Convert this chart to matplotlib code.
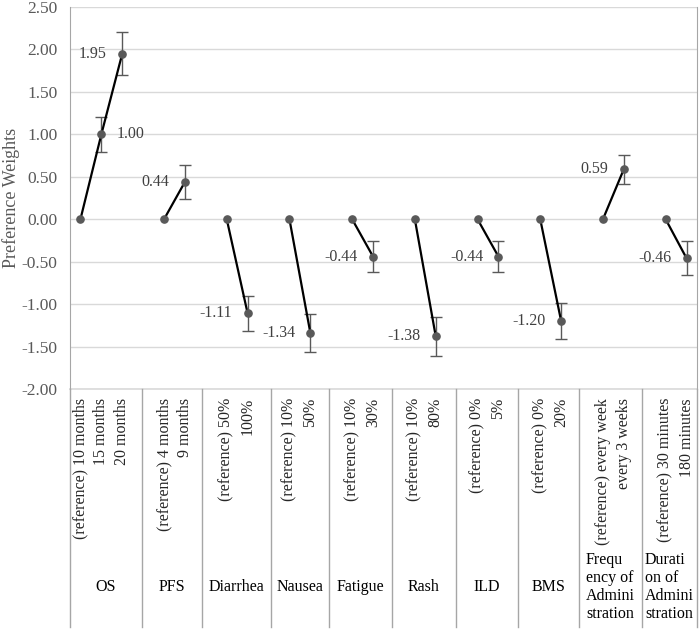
import matplotlib
matplotlib.use("Agg")
import matplotlib.pyplot as plt
import matplotlib.transforms as mtransforms
import numpy as np

plt.rcParams['font.family'] = ['Liberation Serif', 'DejaVu Serif']

# attributes and their levels
groups = ['OS', 'PFS', 'Diarrhea', 'Nausea', 'Fatigue', 'Rash', 'ILD', 'BMS',
          'Frequ\nency of\nAdmini\nstration', 'Durati\non of\nAdmini\nstration']
levels = [['(reference) 10 months', '15 months', '20 months'],
          ['(reference) 4 months', '9 months'],
          ['(reference) 50%', '100%'],
          ['(reference) 10%', '50%'],
          ['(reference) 10%', '30%'],
          ['(reference) 10%', '80%'],
          ['(reference) 0%', '5%'],
          ['(reference) 0%', '20%'],
          ['(reference) every week', 'every 3 weeks'],
          ['(reference) 30 minutes', '180 minutes']]
weights = [[0, 1.00, 1.95],
           [0, 0.44],
           [0, -1.11],
           [0, -1.34],
           [0, -0.44],
           [0, -1.38],
           [0, -0.44],
           [0, -1.20],
           [0, 0.59],
           [0, -0.46]]
errors = [[0, 0.21, 0.25],
          [0, 0.20],
          [0, 0.21],
          [0, 0.22],
          [0, 0.18],
          [0, 0.23],
          [0, 0.18],
          [0, 0.21],
          [0, 0.17],
          [0, 0.20]]

# where the group dividers sit on the category axis (one empty slot between groups)
dividers = [2.94, 5.82, 9.12, 11.89, 14.9, 17.97, 20.94, 23.85, 26.87]

grid_col = '#d9d9d9'
axis_col = '#a6a6a6'
pt_col = '#595959'

fig = plt.figure(figsize=(6.99, 6.29), dpi=100)
ax = fig.add_axes([70 / 699, 1 - 389 / 629, 627 / 699, 382 / 629])

pos = 0
positions = []
for g in range(len(groups)):
    xs = np.arange(pos, pos + len(weights[g]))
    positions.append(xs)
    ys = np.array(weights[g])
    ax.plot(xs, ys, color='black', lw=1.6, zorder=3)
    err = np.array(errors[g], dtype=float)
    ax.errorbar(xs[1:], ys[1:], yerr=err[1:], fmt='none', ecolor=pt_col,
                elinewidth=1, capsize=4, capthick=1, zorder=2)
    ax.plot(xs, ys, 'o', color=pt_col, ms=5.2, zorder=4)
    for x, y in zip(xs[1:], ys[1:]):
        if g == 0 and y == 1.00:
            ax.annotate('%.2f' % y, (x, y), xytext=(11, 0), textcoords='offset points',
                        ha='left', va='center', fontsize=11.5, color='#404040')
        else:
            ax.annotate('%.2f' % y, (x, y), xytext=(-11, 0), textcoords='offset points',
                        ha='right', va='center', fontsize=11.5, color='#404040')
    pos += len(weights[g]) + 1

ax.set_xlim(-0.5, 29.5)
ax.set_ylim(-2.0, 2.5)
ax.set_yticks(np.arange(-2.0, 2.51, 0.5))
ax.set_yticklabels(['%.2f' % v for v in np.arange(-2.0, 2.51, 0.5)])
ax.tick_params(axis='y', length=0, labelsize=12.5, labelcolor=pt_col, pad=9)
ax.set_xticks([])
ax.grid(axis='y', color=grid_col, lw=1)
ax.set_axisbelow(True)
for s in ['top', 'bottom']:
    ax.spines[s].set_visible(False)
ax.spines['left'].set_color(axis_col)
ax.spines['right'].set_color(axis_col)
fig.text(11 / 699, 1 - 198 / 629, 'Preference Weights', rotation=90, ha='center',
         va='center', fontsize=13, color=pt_col)
ax.axhline(-2.0, color=grid_col, lw=1.2, clip_on=False, zorder=1)

# multi level category axis below the plot
trans = mtransforms.blended_transform_factory(ax.transData, ax.transAxes)
bottom = (389 - 627) / 382.0
ax.plot([-0.5, -0.5], [0, bottom], color=axis_col, lw=1, transform=trans, clip_on=False)
ax.plot([29.5, 29.5], [0, bottom], color=axis_col, lw=1, transform=trans, clip_on=False)
for d in dividers:
    ax.plot([d, d], [0, bottom], color=axis_col, lw=1, transform=trans, clip_on=False)

edges = [-0.5] + dividers + [29.5]
lab_top = -9 / 382.0
grp_y = (389 - 587) / 382.0
for g in range(len(groups)):
    for x, lab in zip(positions[g], levels[g]):
        ax.text(x, lab_top, lab, rotation=90, ha='center', va='top', fontsize=11.5,
                color='#262626', transform=trans)
    cx = (edges[g] + edges[g + 1]) / 2
    ax.text(cx, grp_y, groups[g], ha='center', va='center', multialignment='left',
            fontsize=11.5, color='black', transform=trans, linespacing=1.15)

fig.savefig('out.png', dpi=100)
